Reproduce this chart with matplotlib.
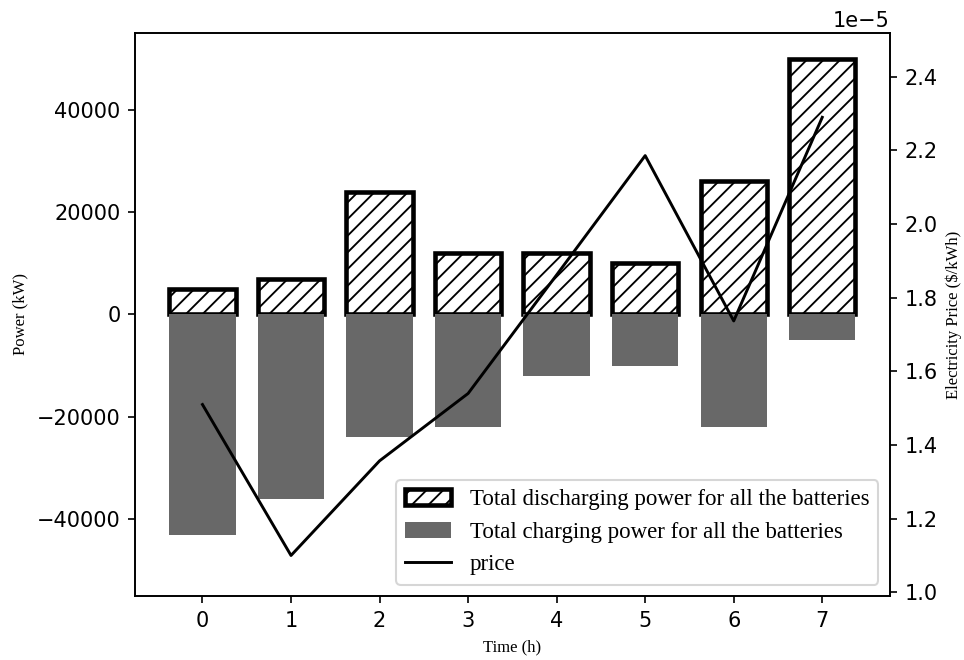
import matplotlib
matplotlib.use("Agg")
import matplotlib.pyplot as plt
import numpy as np

hours = [0, 1, 2, 3, 4, 5, 6, 7]
discharging = [5000, 7000, 24000, 12000, 12000, 10000, 26000, 50000]
charging = [-43000, -36000, -24000, -22000, -12000, -10000, -22000, -5000]
price = [1.51e-5, 1.10e-5, 1.357e-5, 1.54e-5, 1.862e-5, 2.186e-5, 1.737e-5, 2.29e-5]

serif = ['Liberation Serif', 'DejaVu Serif']
plt.rcParams['hatch.linewidth'] = 0.9

fig = plt.figure(figsize=(964 / 150, 660 / 150), dpi=150)
ax = fig.add_axes([0.140, 0.097, 0.783, 0.853])
ax2 = ax.twinx()

b1 = ax.bar(hours, discharging, width=0.75, color='white', edgecolor='black',
            linewidth=2.2, hatch='///', label='Total discharging power for all the batteries')
b2 = ax.bar(hours, charging, width=0.75, color='#686868',
            label='Total charging power for all the batteries')
ax.set_ylim(-max(discharging) * 1.1, max(discharging) * 1.1)
ax.set_xticks(hours)

l1, = ax2.plot(hours, price, color='black', linewidth=1.4, label='price')
ax2.set_ylim(min(price) * 0.9, max(price) * 1.1)

ax.set_xlabel('Time (h)', family=serif, fontsize=8)
ax.set_ylabel('Power (kW)', family=serif, fontsize=8)
ax2.set_ylabel('Electricity Price ($/kWh)', family=serif, fontsize=8)

ax2.legend(handles=[b1, b2, l1], loc='lower right', prop={'family': serif, 'size': 11})

fig.savefig('out.png', dpi=150)
